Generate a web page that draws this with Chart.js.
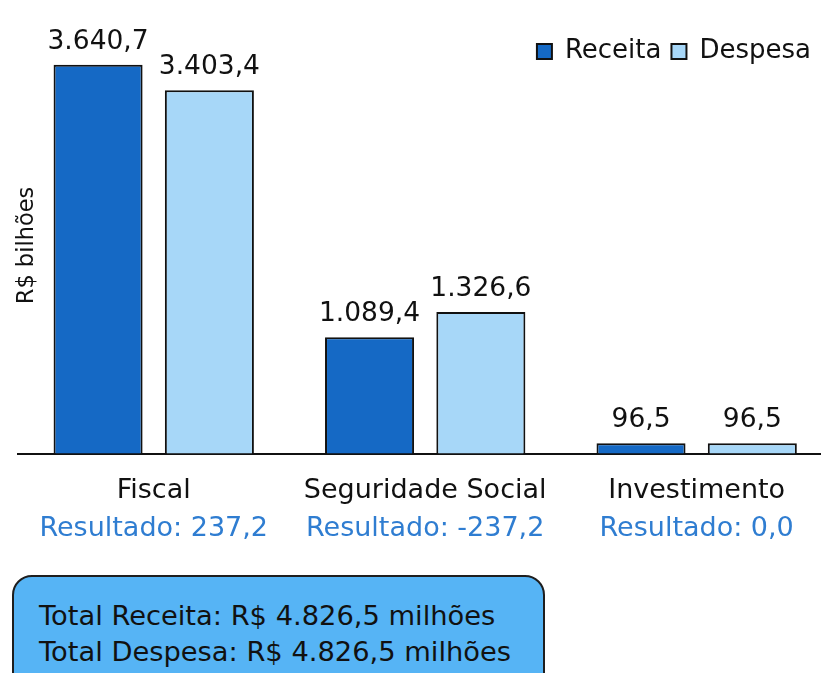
<!DOCTYPE html>
<html>
<head>
<meta charset="utf-8">
<script src="https://cdn.jsdelivr.net/npm/chart.js@4"></script>
<style>
  html, body { margin: 0; padding: 0; background: #ffffff; overflow: hidden; }
  #wrap { position: absolute; left: 0; top: 0; width: 821px; height: 673px; }
  #totals {
    position: absolute; left: 12px; top: 575px; width: 533px; height: 130px;
    box-sizing: border-box; border: 2px solid #1e1e1e; border-radius: 20px;
    background: #56b4f5; padding: 21px 0 0 25px;
    font-family: 'DejaVu Sans', sans-serif; font-size: 27.3px; line-height: 36px; color: #111;
    white-space: nowrap;
  }
</style>
</head>
<body>
<div id="wrap"><canvas id="c"></canvas></div>
<div id="totals"></div>
<script>
// ---- data ----
const categories = ['Fiscal', 'Seguridade Social', 'Investimento'];
const receita = [3640.7, 1089.4, 96.5];
const despesa = [3403.4, 1326.6, 96.5];
const resultado = [237.2, -237.2, 0.0];
const totalLabels = ['Total Receita', 'Total Despesa'];
const totalValues = [4826.5, 4826.5];
const seriesNames = ['Receita', 'Despesa'];
const yTitle = 'R$ bilhões';

function fmt(v) {
  const neg = v < 0;
  const s = Math.abs(v).toFixed(1);
  let [ip, dp] = s.split('.');
  ip = ip.replace(/\B(?=(\d{3})+(?!\d))/g, '.');
  return (neg ? '-' : '') + ip + ',' + dp;
}

document.getElementById('totals').innerHTML =
  totalLabels.map((l, i) => l + ': R$ ' + fmt(totalValues[i]) + ' milhões').join('<br>');

Chart.defaults.font.family = "'DejaVu Sans', sans-serif";
Chart.defaults.color = '#111';

const valueLabels = {
  id: 'valueLabels',
  afterDatasetsDraw(chart) {
    const ctx = chart.ctx;
    ctx.save();
    ctx.font = "26.5px 'DejaVu Sans', sans-serif";
    ctx.fillStyle = '#111';
    ctx.textAlign = 'center';
    ctx.textBaseline = 'alphabetic';
    chart.data.datasets.forEach((ds, di) => {
      const meta = chart.getDatasetMeta(di);
      meta.data.forEach((bar, i) => {
        ctx.fillText(fmt(ds.data[i].y), bar.x, bar.y - 16);
      });
    });
    ctx.restore();
  }
};

// second line under each category: "Resultado", placed at the x scale's tick positions
const resultadoLabels = {
  id: 'resultadoLabels',
  afterDraw(chart) {
    const ctx = chart.ctx;
    const xs = chart.scales.x;
    ctx.save();
    ctx.font = "27px 'DejaVu Sans', sans-serif";
    ctx.fillStyle = '#2f7dd1';
    ctx.textAlign = 'center';
    ctx.textBaseline = 'alphabetic';
    resultado.forEach((r, i) => {
      ctx.fillText('Resultado: ' + fmt(r), xs.getPixelForValue(i), chart.chartArea.bottom + 82);
    });
    ctx.restore();
  }
};

const yTitlePlugin = {
  id: 'yTitlePlugin',
  afterDraw(chart) {
    const ctx = chart.ctx;
    ctx.save();
    ctx.translate(33, 245.5);
    ctx.rotate(-Math.PI / 2);
    ctx.font = "22.5px 'DejaVu Sans', sans-serif";
    ctx.fillStyle = '#111';
    ctx.textAlign = 'center';
    ctx.textBaseline = 'alphabetic';
    ctx.fillText(yTitle, 0, 0);
    ctx.restore();
  }
};

const catTicks = (scale) => { scale.ticks = categories.map((c, i) => ({ value: i })); };

new Chart(document.getElementById('c'), {
  type: 'bar',
  data: {
    datasets: [
      {
        label: seriesNames[0],
        data: receita.map((v, i) => ({ x: i, y: v })),
        backgroundColor: '#1569c5',
        borderColor: '#111',
        borderWidth: 2,
        categoryPercentage: 0.82,
        barPercentage: 0.80,
        clip: false
      },
      {
        label: seriesNames[1],
        data: despesa.map((v, i) => ({ x: i, y: v })),
        backgroundColor: '#a7d7f8',
        borderColor: '#111',
        borderWidth: 2,
        categoryPercentage: 0.82,
        barPercentage: 0.80,
        clip: false
      }
    ]
  },
  options: {
    responsive: true,
    maintainAspectRatio: false,
    animation: false,
    layout: { padding: { top: 28.5, left: 18, right: 0, bottom: 145 } },
    plugins: {
      legend: {
        position: 'top',
        align: 'end',
        labels: {
          font: { size: 26 },
          color: '#111',
          boxWidth: 15,
          boxHeight: 15,
          padding: 10
        }
      },
      tooltip: { enabled: false }
    },
    scales: {
      x: {
        type: 'linear',
        position: 'bottom',
        offset: false,
        min: -0.5,
        max: 2.458,
        afterBuildTicks: catTicks,
        grid: { display: false, drawTicks: false },
        border: { display: true, color: '#111', width: 2 },
        ticks: {
          autoSkip: false,
          maxRotation: 0,
          padding: 21,
          font: { size: 27 },
          color: '#111',
          callback: (v) => categories[v]
        }
      },
      y: {
        display: false,
        min: 0,
        max: 3550
      }
    }
  },
  plugins: [valueLabels, resultadoLabels, yTitlePlugin]
});
</script>
</body>
</html>
